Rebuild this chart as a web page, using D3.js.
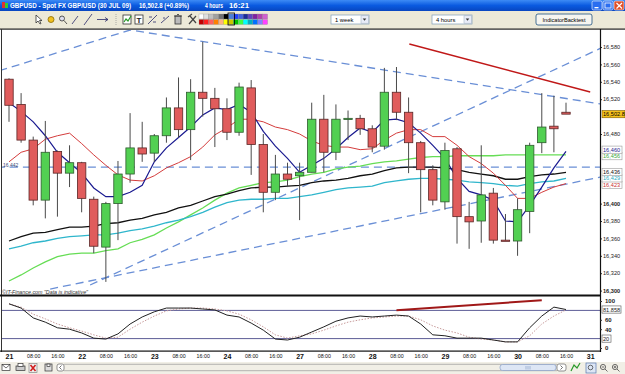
<!DOCTYPE html>
<html><head><meta charset="utf-8">
<script src="https://cdn.jsdelivr.net/npm/d3@7"></script>
<style>
html,body{margin:0;padding:0;background:#fff;overflow:hidden}
svg{display:block;font-family:"Liberation Sans",Arial,sans-serif}
</style></head><body>
<svg id="c" width="625" height="374"></svg>
<script>
// ---------- DATA ----------
const dayLabels = ["21","22","23","24","27","28","29","30","31"];
const opens  = [16543,16514,16473,16404,16460,16435,16447,16405,16350,16400,16434,16464,16458,16478,16510,16485,16528,16521,16509,16482,16533,16468,16413,16434,16432,16436,16497,16459,16497,16498,16486,16466,16528,16505,16470,16439,16402,16463,16385,16380,16412,16358,16357,16391,16470,16489,16505];
const highs  = [16544,16527,16477,16495,16461,16467,16448,16408,16402,16449,16504,16494,16480,16522,16545,16543,16586,16533,16521,16539,16542,16480,16456,16447,16447,16516,16525,16514,16507,16502,16490,16556,16557,16522,16472,16444,16470,16465,16402,16467,16418,16388,16406,16470,16527,16524,16516];
const lows   = [16494,16470,16398,16383,16385,16419,16390,16343,16310,16358,16424,16448,16448,16470,16476,16450,16500,16465,16473,16478,16433,16390,16404,16419,16381,16436,16436,16450,16473,16479,16459,16462,16496,16435,16390,16398,16393,16354,16348,16355,16354,16357,16340,16366,16458,16459,16503];
const closes = [16513,16473,16404,16459,16435,16447,16406,16351,16400,16434,16464,16457,16478,16510,16485,16528,16521,16509,16482,16534,16468,16413,16434,16428,16436,16497,16459,16497,16498,16486,16465,16528,16505,16470,16439,16404,16461,16385,16379,16410,16358,16357,16393,16467,16488,16486,16502.8];
const maNavy  = [16516,16506,16494,16478,16459,16447,16435,16418,16408,16408,16413,16421,16448,16464,16476,16488,16502,16510,16508,16514,16505,16483,16466,16452,16436,16444,16452,16463,16476,16487,16482,16496,16497,16493,16481,16467,16452,16429,16414,16410,16404,16380,16379,16398,16419,16441,16460];
const maRed   = [16448,16459,16463,16474,16478,16481,16469,16456,16444,16433,16427,16426,16432,16441,16447,16454,16465,16479,16487,16497,16497,16494,16488,16485,16480,16472,16467,16465,16465,16462,16463,16473,16481,16485,16485,16477,16477,16467,16454,16446,16435,16421,16406,16406,16413,16419,16423];
const maBlack = [16357,16362,16366,16367,16370,16373,16373,16374,16377,16378,16381,16383,16387,16390,16395,16398,16403,16408,16411,16415,16418,16419,16419,16420,16421,16424,16426,16427,16429,16432,16434,16438,16441,16442,16442,16442,16441,16439,16436,16434,16432,16428,16428,16431,16433,16434,16436];
const maCyan  = [16348,16351,16355,16357,16360,16362,16363,16364,16364,16366,16369,16371,16374,16378,16381,16385,16390,16396,16401,16404,16405,16405,16406,16406,16408,16410,16413,16416,16418,16419,16420,16424,16426,16428,16429,16429,16428,16427,16425,16424,16423,16421,16420,16423,16425,16426,16429];
const maGreen = [16311,16318,16326,16333,16339,16342,16343,16343,16346,16348,16355,16359,16364,16372,16379,16387,16395,16404,16412,16418,16421,16424,16425,16427,16431,16434,16436,16440,16442,16443,16446,16448,16449,16451,16453,16454,16454,16455,16455,16455,16455,16456,16456,16456,16456,16456,16456];
const stochK = [94,85,64,55,43,40,32,21,19,30,51,66,77,85,85,85,83,81,70,66,53,38,19,17,23,34,45,57,64,68,66,68,70,68,51,28,26,21,21,21,17,13,13,43,68,87,81.858];
const stochD = [94,87,72,62,51,43,36,28,21,23,40,55,68,79,83,85,85,83,79,72,60,45,28,21,26,30,38,47,55,60,64,66,68,68,60,47,38,32,23,19,17,13,13,26,51,68,81];
const trendUpper = [[-0.8,16552.7],[10,16599.5],[48.9,16514.5]];
const trendRiseA = [[6.7,16306.4],[48.9,16578.8]];
const trendRiseB = [[3.4,16301.8],[48.9,16430.6]];
const hLevel = 16442;
const trendRed = [[33.06,16583.4],[48.0,16528.3]];
const oscTrend = [[32.0,80.5],[44.0,101.5]];
const priceTicks = [16580,16560,16540,16520,16480,16400,16380,16360,16340,16320,16300];
const oscTicks = [100,60,40,0];
const oscLevels = [80,20];

// ---------- SCALES ----------
const svg = d3.select("#c");
const x = d3.scaleLinear().domain([0,46]).range([9,566]);
const y = d3.scaleLinear().domain([16300,16580]).range([290.6,47]);
const yo = d3.scaleLinear().domain([0,100]).range([348,301]);
const P = {l:2, r:600, t:30, b:295};
const O = {t:297, b:351};

const defs = svg.append("defs");
defs.append("clipPath").attr("id","cm").append("rect").attr("x",P.l).attr("y",P.t).attr("width",P.r-P.l).attr("height",P.b-P.t);
defs.append("clipPath").attr("id","co").append("rect").attr("x",P.l).attr("y",O.t).attr("width",P.r-P.l).attr("height",O.b-O.t);
const gr = defs.append("linearGradient").attr("id","tb").attr("x1",0).attr("y1",0).attr("x2",0).attr("y2",1);
gr.append("stop").attr("offset","0").attr("stop-color","#3d8bf5");
gr.append("stop").attr("offset","0.5").attr("stop-color","#0a5ae0");
gr.append("stop").attr("offset","1").attr("stop-color","#0846c0");

svg.append("rect").attr("width",625).attr("height",374).attr("fill","#fff");

// ---------- TITLE BAR ----------
svg.append("rect").attr("x",0).attr("y",0).attr("width",625).attr("height",11).attr("fill","url(#tb)");
svg.append("rect").attr("x",2).attr("y",2).attr("width",3).attr("height",6).attr("fill","#d33");
svg.append("rect").attr("x",5).attr("y",3).attr("width",3).attr("height",5).attr("fill","#3c3");
const tt = svg.append("g").attr("fill","#fff").attr("font-size","6.6px").attr("font-weight","bold");
tt.append("text").attr("x",10).attr("y",8.3).attr("textLength",121).attr("lengthAdjust","spacingAndGlyphs").text("GBPUSD - Spot FX GBP/USD (30 JUL 09)");
tt.append("text").attr("x",139).attr("y",8.3).attr("textLength",50).attr("lengthAdjust","spacingAndGlyphs").text("16,502.8 (+0.89%)");
tt.append("text").attr("x",205).attr("y",8.3).attr("textLength",18).attr("lengthAdjust","spacingAndGlyphs").text("4 hours");
tt.append("text").attr("x",229).attr("y",8.3).attr("textLength",20).attr("lengthAdjust","spacingAndGlyphs").text("16:21");
[[592,"#2a6ef0"],[603,"#2a6ef0"],[614,"#e0502a"]].forEach(([bx,c])=>{
  svg.append("rect").attr("x",bx).attr("y",1).attr("width",10).attr("height",9).attr("rx",1.5).attr("fill",c).attr("stroke","#fff").attr("stroke-width",0.6);
});
svg.append("rect").attr("x",594.5).attr("y",7).attr("width",4).attr("height",1.3).attr("fill","#fff");
svg.append("rect").attr("x",605).attr("y",3).attr("width",6).attr("height",5).attr("fill","none").attr("stroke","#fff").attr("stroke-width",0.8);
svg.append("path").attr("d","M616.5,3 L622,8.5 M622,3 L616.5,8.5").attr("stroke","#fff").attr("stroke-width",1.2);

// ---------- TOOLBAR ----------
svg.append("rect").attr("x",0).attr("y",11).attr("width",625).attr("height",18).attr("fill","#ece9d8");
const tb = svg.append("g").attr("stroke","#333").attr("stroke-width",0.8).attr("fill","none");
tb.append("path").attr("d","M36,15 L36,23 L38,21 L40,24 L41,23.5 L39.5,20.5 L42,20.5 Z").attr("fill","#fff");
tb.append("circle").attr("cx",51).attr("cy",19.5).attr("r",3).attr("fill","#f0c020").attr("stroke","#8a6a00");
tb.append("circle").attr("cx",62).attr("cy",18.5).attr("r",2.5).attr("fill","#dde");
tb.append("path").attr("d","M64,20.5 L67,24");
tb.append("path").attr("d","M72,24 L78,16").attr("stroke","#2a2a6a");
tb.append("path").attr("d","M84,25 L92,14").attr("stroke","#2a2a6a");
tb.append("path").attr("d","M97,19.5 L108,19.5 M105,17.5 L108,19.5 L105,21.5").attr("stroke","#2a2a6a");
tb.append("path").attr("d","M116,14 L116,26").attr("stroke","#999").attr("stroke-dasharray","1,1");
tb.append("rect").attr("x",123).attr("y",15).attr("width",8).attr("height",9).attr("fill","#fff");
tb.append("path").attr("d","M124,22 L126,19 L128,21 L131,16").attr("stroke","#2a9a2a").attr("stroke-width",1.2);
tb.append("rect").attr("x",135).attr("y",15).attr("width",8).attr("height",9).attr("fill","#fff");
tb.append("text").attr("x",136.5).attr("y",23).attr("font-size","8px").attr("font-weight","bold").attr("fill","#222").attr("stroke","none").text("T");
tb.append("path").attr("d","M148,24 L157,15 M149,17 L152,17 M153,22 L156,22").attr("stroke","#2a2a6a");
tb.append("path").attr("d","M161,23 L169,16 M163,18 L165,18").attr("stroke","#2a2a6a");
tb.append("rect").attr("x",175).attr("y",16).attr("width",6).attr("height",8).attr("fill","#bbb");
tb.append("path").attr("d","M174,16 L182,16 M177,14.5 L179,14.5");
tb.append("path").attr("d","M189,24 L196,16 M190,16 L196,23 M188,17 L192,14").attr("stroke","#444").attr("stroke-width",1.2);
const pal1 = ["#ffffff","#e0e0e0","#c0c0c0","#a0a0a0","#707070","#000000","#4a7fd8","#2040ff","#4060e0","#1a2a9a","#6040c0","#8020a0","#b040b0","#d060d0"];
const pal2 = ["#c00000","#ff2020","#ff6060","#ff8000","#ffb080","#ffff00","#c8c800","#00c000","#40ff40","#00ffff","#00b0c0","#0070ff","#8080ff","#ff40ff"];
pal1.forEach((c,i)=>svg.append("rect").attr("x",199+i*4.9).attr("y",14).attr("width",4.9).attr("height",5).attr("fill",c).attr("stroke","#888").attr("stroke-width",0.3));
pal2.forEach((c,i)=>svg.append("rect").attr("x",199+i*4.9).attr("y",19.5).attr("width",4.9).attr("height",5).attr("fill",c).attr("stroke","#888").attr("stroke-width",0.3));
svg.append("rect").attr("x",228).attr("y",13).attr("width",6.5).attr("height",12).attr("fill","none").attr("stroke","#000").attr("stroke-width",0.8);
function selectBox(sx,w,label){
  svg.append("rect").attr("x",sx).attr("y",15).attr("width",w).attr("height",9).attr("fill","#fff").attr("stroke","#7f9db9").attr("stroke-width",0.7);
  svg.append("text").attr("x",sx+4).attr("y",22).attr("font-size","5.8px").attr("fill","#000").text(label);
  svg.append("rect").attr("x",sx+w-8).attr("y",15.8).attr("width",7.3).attr("height",7.4).attr("fill","#e8ecf8").attr("stroke","#9ab").attr("stroke-width",0.5);
  svg.append("path").attr("d",`M${sx+w-6.3},18.5 L${sx+w-2.7},18.5 L${sx+w-4.5},20.8 Z`).attr("fill","#333");
}
selectBox(331,38,"1 week");
selectBox(432,40,"4 hours");
svg.append("rect").attr("x",536).attr("y",14).attr("width",56).attr("height",11).attr("rx",2).attr("fill","#f6f5f0").attr("stroke","#003c74").attr("stroke-width",0.7);
svg.append("text").attr("x",564).attr("y",21.8).attr("text-anchor","middle").attr("font-size","5.6px").attr("fill","#000").text("IndicatorBacktest");
svg.append("rect").attr("x",0).attr("y",28.5).attr("width",625).attr("height",1.2).attr("fill","#222");

// ---------- MAIN PANEL ----------
const main = svg.append("g").attr("clip-path","url(#cm)");
const tl = d3.line().x(d=>x(d[0])).y(d=>y(d[1]));
const dashStyle = s=>s.attr("fill","none").attr("stroke","#6a8fd6").attr("stroke-width",1.3).attr("stroke-dasharray","8,5");
[trendUpper,trendRiseA,trendRiseB,[[-1,hLevel],[49,hLevel]]].forEach(t=>main.append("path").attr("d",tl(t)).call(dashStyle));
main.append("path").attr("d",tl(trendRed)).attr("fill","none").attr("stroke","#c01818").attr("stroke-width",1.4);

const mline = d3.line().x((d,i)=>x(i)).y(d=>y(d));
[[maGreen,"#66dd55",1.3],[maCyan,"#2fb6cc",1.3],[maBlack,"#111",1.3],[maRed,"#d43c3c",1],[maNavy,"#1a1a90",1.2]].forEach(([s,c,w])=>{
  main.append("path").attr("d",mline(s)).attr("fill","none").attr("stroke",c).attr("stroke-width",w);
});

const idx = d3.range(opens.length);
main.selectAll("line.wick").data(idx).join("line").attr("class","wick")
  .attr("x1",i=>x(i)).attr("x2",i=>x(i)).attr("y1",i=>y(highs[i])).attr("y2",i=>y(lows[i]))
  .attr("stroke","#4a4a4a").attr("stroke-width",1);
main.selectAll("rect.body").data(idx).join("rect").attr("class","body")
  .attr("x",i=>x(i)-4.2).attr("width",8.4)
  .attr("y",i=>y(Math.max(opens[i],closes[i])))
  .attr("height",i=>Math.max(1.2,Math.abs(y(opens[i])-y(closes[i]))))
  .attr("fill",i=>closes[i]>=opens[i]?"#52d052":"#e05c5c")
  .attr("stroke",i=>closes[i]>=opens[i]?"#2d5a2d":"#5a2626").attr("stroke-width",0.8);

svg.append("text").attr("x",3).attr("y",167).attr("font-size","5px").attr("fill","#3a4a7a").text(d3.format(",")(hLevel));
svg.append("text").attr("x",2).attr("y",293.5).attr("font-size","5px").attr("font-style","italic").attr("fill","#333")
  .attr("textLength",86).attr("lengthAdjust","spacingAndGlyphs").text("©IT-Finance.com \"Data is indicative\"");

// ---------- OSCILLATOR ----------
const osc = svg.append("g").attr("clip-path","url(#co)");
oscLevels.forEach(v=>osc.append("line").attr("x1",P.l).attr("x2",P.r).attr("y1",yo(v)).attr("y2",yo(v)).attr("stroke","#5c5c96").attr("stroke-width",1));
const oline = d3.line().x((d,i)=>x(i)).y(d=>yo(d));
osc.append("path").attr("d",oline(stochD)).attr("fill","none").attr("stroke","#c79a9a").attr("stroke-width",1).attr("stroke-dasharray","1.5,1.5");
osc.append("path").attr("d",oline(stochK)).attr("fill","none").attr("stroke","#222").attr("stroke-width",1);
osc.append("path").attr("d",d3.line().x(d=>x(d[0])).y(d=>yo(d[1]))(oscTrend)).attr("fill","none").attr("stroke","#a01818").attr("stroke-width",2);

// frames
svg.append("line").attr("x1",1.5).attr("x2",1.5).attr("y1",29).attr("y2",352).attr("stroke","#333").attr("stroke-width",1);
svg.append("rect").attr("x",0).attr("y",294.5).attr("width",601).attr("height",2).attr("fill","#111");
svg.append("rect").attr("x",0).attr("y",350.5).attr("width",601).attr("height",1.2).attr("fill","#111");

// ---------- AXES ----------
const ay = svg.append("g").attr("transform","translate(600,0)")
  .call(d3.axisRight(y).tickValues(priceTicks).tickFormat(d3.format(",")).tickSize(2).tickPadding(1));
ay.select(".domain").remove();
ay.selectAll("text").attr("font-size","5.6px").attr("fill","#222").attr("font-family","Liberation Sans, Arial, sans-serif")
  .attr("font-weight",d=>d%100===0?"bold":"normal");
ay.selectAll("line").attr("stroke","#333");
svg.append("line").attr("x1",600.5).attr("x2",600.5).attr("y1",29).attr("y2",352).attr("stroke","#111").attr("stroke-width",1.2);

const ao = svg.append("g").attr("transform","translate(600,0)")
  .call(d3.axisRight(yo).tickValues(oscTicks).tickSize(2).tickPadding(3));
ao.select(".domain").remove();
ao.selectAll("text").attr("font-size","6px").attr("font-weight","bold").attr("fill","#222").attr("font-family","Liberation Sans, Arial, sans-serif");
ao.selectAll("line").attr("stroke","#333");

function valBox(yy,txt,color,fill,stroke,w){
  svg.append("rect").attr("x",602).attr("y",yy-3.6).attr("width",w).attr("height",7.2).attr("fill",fill).attr("stroke",stroke).attr("stroke-width",0.6);
  svg.append("text").attr("x",603).attr("y",yy+2).attr("font-size","5.6px").attr("fill",color).text(txt);
}
valBox(y(closes[closes.length-1]),d3.format(",.1f")(closes[closes.length-1]),"#000","#f5c21b","#7a5a00",23);
// indicator value labels, pushed upward to avoid overlap
const maLab = [[maNavy,"#23238f"],[maGreen,"#3aa83a"],[maBlack,"#111"],[maCyan,"#2aaac0"],[maRed,"#c83030"]]
  .map(([s,c])=>({v:s[s.length-1],c,yy:y(s[s.length-1])})).sort((a,b)=>b.yy-a.yy);
for(let k=1;k<maLab.length;k++){ if(maLab[k].yy>maLab[k-1].yy-6.5) maLab[k].yy=maLab[k-1].yy-6.5; }
maLab.forEach(d=>valBox(d.yy+1.3,d3.format(",")(d.v),d.c,"#fff","#9a9a9a",20));
valBox(yo(stochK[stochK.length-1]),d3.format(".3f")(stochK[stochK.length-1]),"#222","#fff","#555",19);
valBox(yo(20),"20","#222","#fff","#555",9);

const ax = svg.append("g").attr("transform","translate(0,352)")
  .call(d3.axisBottom(x).tickValues(d3.range(0,49,2)).tickSize(0).tickPadding(2)
    .tickFormat(i=>i%6===0?dayLabels[i/6]:(i%6===2?"08:00":"16:00")));
ax.select(".domain").remove();
ax.selectAll("text").attr("fill","#111").attr("font-family","Liberation Sans, Arial, sans-serif")
  .attr("font-size",i=>i%6===0?"7px":"5.3px").attr("font-weight",i=>i%6===0?"bold":"normal");

// ---------- BOTTOM BAR ----------
svg.append("rect").attr("x",0).attr("y",362).attr("width",625).attr("height",12).attr("fill","#f1efe6");
const bb = svg.append("g").attr("stroke","#333").attr("stroke-width",0.7).attr("fill","none");
bb.append("rect").attr("x",2).attr("y",364.5).attr("width",8).attr("height",6).attr("fill","#fff");
bb.append("path").attr("d","M2,364.5 L6,368 L10,364.5");
bb.append("rect").attr("x",16).attr("y",366).attr("width",9).attr("height",4.5).attr("fill","#ccc");
bb.append("rect").attr("x",18).attr("y",363.5).attr("width",5).attr("height",3).attr("fill","#fff");
bb.append("rect").attr("x",29).attr("y",363.5).attr("width",8).attr("height",9).attr("fill","#eee").attr("stroke","#888");
bb.append("path").attr("d","M30.5,365 L35.5,371 M35.5,365 L30.5,371").attr("stroke","#d02020").attr("stroke-width",1.6);
bb.append("rect").attr("x",45).attr("y",364).attr("width",7).attr("height",7).attr("fill","#ddd");
bb.append("rect").attr("x",47).attr("y",364).attr("width",3).attr("height",2.5).attr("fill","#fff");
bb.append("rect").attr("x",57).attr("y",364).attr("width",7).attr("height",7).attr("rx",2).attr("fill","#fff").attr("stroke","#666");
bb.append("path").attr("d","M61.5,365.5 L59.5,367.5 L61.5,369.5");
bb.append("line").attr("x1",64).attr("x2",557).attr("y1",364.3).attr("y2",364.3).attr("stroke","#999");
bb.append("line").attr("x1",64).attr("x2",557).attr("y1",370.7).attr("y2",370.7).attr("stroke","#999");
bb.append("rect").attr("x",500).attr("y",364.5).attr("width",56).attr("height",6).attr("rx",2.5).attr("fill","#dde6f5").attr("stroke","#8aa0c8");
bb.append("path").attr("d","M526,366 L526,369.5 M528,366 L528,369.5 M530,366 L530,369.5").attr("stroke","#8aa0c8");
bb.append("rect").attr("x",557).attr("y",364).attr("width",9).attr("height",7).attr("rx",2).attr("fill","#fff").attr("stroke","#666");
bb.append("path").attr("d","M560.5,365.5 L562.5,367.5 L560.5,369.5");
bb.append("path").attr("d","M571,371 L574,365 L577,368 L580,363").attr("stroke","#2a9a2a").attr("stroke-width",1.2);
bb.append("rect").attr("x",586).attr("y",363).attr("width",10).attr("height",10).attr("fill","#dde6f5").attr("stroke","#5a7ab0");
bb.append("circle").attr("cx",590.5).attr("cy",367.5).attr("r",2.3);
bb.append("circle").attr("cx",603).attr("cy",367).attr("r",2.6);
bb.append("path").attr("d","M605,369 L607.5,371.5 M601.8,367 L604.2,367");
bb.append("circle").attr("cx",615).attr("cy",367).attr("r",2.6);
bb.append("path").attr("d","M617,369 L619.5,371.5 M613.8,367 L616.2,367 M615,365.8 L615,368.2");
</script>
</body></html>
